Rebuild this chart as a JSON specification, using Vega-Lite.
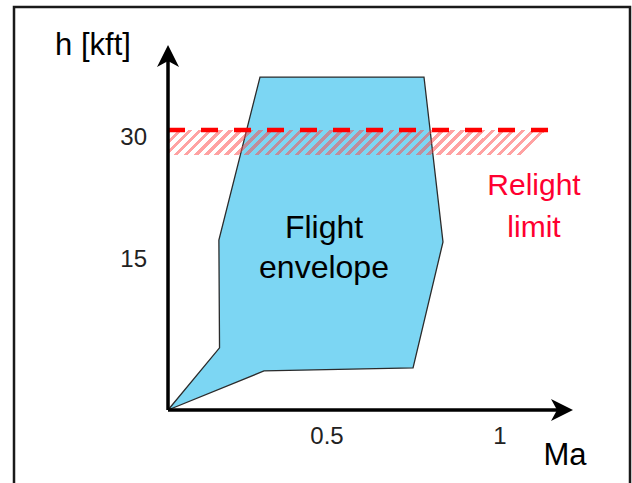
{
  "$schema": "https://vega.github.io/schema/vega-lite/v6.json",
  "width": 616,
  "height": 478,
  "autosize": {"type": "none"},
  "padding": {"left": 14, "top": 7, "right": 2, "bottom": -2},
  "background": "white",
  "config": {
    "view": {"stroke": "#1a1a1a", "strokeWidth": 2.5},
    "text": {"font": "Liberation Sans"}
  },
  "datasets": {
    "envelope": [
      {"i": 0, "Ma": 0, "h": 0},
      {"i": 1, "Ma": 0.16, "h": 6.8},
      {"i": 2, "Ma": 0.158, "h": 18.6},
      {"i": 3, "Ma": 0.2857, "h": 36.43},
      {"i": 4, "Ma": 0.795, "h": 36.43},
      {"i": 5, "Ma": 0.854, "h": 18.38},
      {"i": 6, "Ma": 0.761, "h": 4.6},
      {"i": 7, "Ma": 0.298, "h": 4.27},
      {"i": 8, "Ma": 0, "h": 0}
    ],
    "band": [{"Ma": 0, "Ma2": 1.186, "h": 27.9, "h2": 30.63}],
    "relight": [{"Ma": 0, "Ma2": 1.186, "h": 30.63}],
    "axes": [
      {"axis": "h", "Ma": 0, "h": 0, "Ma2": 0, "h2": 38.73},
      {"axis": "Ma", "Ma": 0, "h": 0, "Ma2": 1.2236, "h2": 0}
    ],
    "titles": [
      {"label": "h [kft]", "Ma": -0.2329, "h": 38.84},
      {"label": "Ma", "Ma": 1.233, "h": -6.02}
    ],
    "envLabel": [{"label": "Flight\nenvelope", "Ma": 0.4845, "h": 18.82}],
    "relightLabel": [{"label": "Relight\nlimit", "Ma": 1.1366, "h": 23.52}],
    "ytick30": [{"label": "30", "Ma": 0, "h": 30}],
    "ytick15": [{"label": "15", "Ma": 0, "h": 15}],
    "xtick05": [{"label": "0.5", "Ma": 0.5, "h": 0}],
    "xtick1": [{"label": "1", "Ma": 1, "h": 0}]
  },
  "encoding": {
    "x": {"field": "Ma", "type": "quantitative", "scale": {"domain": [-0.4783, 1.4348], "nice": false, "zero": false}, "axis": null},
    "y": {"field": "h", "type": "quantitative", "scale": {"domain": [-8.206, 44.092], "nice": false, "zero": false}, "axis": null}
  },
  "layer": [
    {
      "data": {"name": "envelope"},
      "mark": {"type": "line", "fill": "#7cd6f3", "stroke": "#2b2b2b", "strokeWidth": 1.3, "strokeJoin": "miter"},
      "encoding": {"order": {"field": "i", "type": "quantitative"}}
    },
    {
      "data": {"name": "band"},
      "mark": {
        "type": "rect",
        "fill": {
          "gradient": "linear", "x1": 0, "y1": 0, "x2": 1, "y2": 0.0654,
          "stops": [
            {"offset": 0, "color": "rgba(255,70,70,0.5)"}, {"offset": 0.0118, "color": "rgba(255,70,70,0.5)"}, {"offset": 0.0118, "color": "rgba(255,70,70,0)"}, {"offset": 0.0263, "color": "rgba(255,70,70,0)"},
            {"offset": 0.0263, "color": "rgba(255,70,70,0.5)"}, {"offset": 0.0381, "color": "rgba(255,70,70,0.5)"}, {"offset": 0.0381, "color": "rgba(255,70,70,0)"}, {"offset": 0.0526, "color": "rgba(255,70,70,0)"},
            {"offset": 0.0526, "color": "rgba(255,70,70,0.5)"}, {"offset": 0.0644, "color": "rgba(255,70,70,0.5)"}, {"offset": 0.0644, "color": "rgba(255,70,70,0)"}, {"offset": 0.0789, "color": "rgba(255,70,70,0)"},
            {"offset": 0.0789, "color": "rgba(255,70,70,0.5)"}, {"offset": 0.0907, "color": "rgba(255,70,70,0.5)"}, {"offset": 0.0907, "color": "rgba(255,70,70,0)"}, {"offset": 0.1053, "color": "rgba(255,70,70,0)"},
            {"offset": 0.1053, "color": "rgba(255,70,70,0.5)"}, {"offset": 0.1171, "color": "rgba(255,70,70,0.5)"}, {"offset": 0.1171, "color": "rgba(255,70,70,0)"}, {"offset": 0.1316, "color": "rgba(255,70,70,0)"},
            {"offset": 0.1316, "color": "rgba(255,70,70,0.5)"}, {"offset": 0.1434, "color": "rgba(255,70,70,0.5)"}, {"offset": 0.1434, "color": "rgba(255,70,70,0)"}, {"offset": 0.1579, "color": "rgba(255,70,70,0)"},
            {"offset": 0.1579, "color": "rgba(255,70,70,0.5)"}, {"offset": 0.1697, "color": "rgba(255,70,70,0.5)"}, {"offset": 0.1697, "color": "rgba(255,70,70,0)"}, {"offset": 0.1842, "color": "rgba(255,70,70,0)"},
            {"offset": 0.1842, "color": "rgba(255,70,70,0.5)"}, {"offset": 0.196, "color": "rgba(255,70,70,0.5)"}, {"offset": 0.196, "color": "rgba(255,70,70,0)"}, {"offset": 0.2105, "color": "rgba(255,70,70,0)"},
            {"offset": 0.2105, "color": "rgba(255,70,70,0.5)"}, {"offset": 0.2223, "color": "rgba(255,70,70,0.5)"}, {"offset": 0.2223, "color": "rgba(255,70,70,0)"}, {"offset": 0.2368, "color": "rgba(255,70,70,0)"},
            {"offset": 0.2368, "color": "rgba(255,70,70,0.5)"}, {"offset": 0.2486, "color": "rgba(255,70,70,0.5)"}, {"offset": 0.2486, "color": "rgba(255,70,70,0)"}, {"offset": 0.2632, "color": "rgba(255,70,70,0)"},
            {"offset": 0.2632, "color": "rgba(255,70,70,0.5)"}, {"offset": 0.275, "color": "rgba(255,70,70,0.5)"}, {"offset": 0.275, "color": "rgba(255,70,70,0)"}, {"offset": 0.2895, "color": "rgba(255,70,70,0)"},
            {"offset": 0.2895, "color": "rgba(255,70,70,0.5)"}, {"offset": 0.3013, "color": "rgba(255,70,70,0.5)"}, {"offset": 0.3013, "color": "rgba(255,70,70,0)"}, {"offset": 0.3158, "color": "rgba(255,70,70,0)"},
            {"offset": 0.3158, "color": "rgba(255,70,70,0.5)"}, {"offset": 0.3276, "color": "rgba(255,70,70,0.5)"}, {"offset": 0.3276, "color": "rgba(255,70,70,0)"}, {"offset": 0.3421, "color": "rgba(255,70,70,0)"},
            {"offset": 0.3421, "color": "rgba(255,70,70,0.5)"}, {"offset": 0.3539, "color": "rgba(255,70,70,0.5)"}, {"offset": 0.3539, "color": "rgba(255,70,70,0)"}, {"offset": 0.3684, "color": "rgba(255,70,70,0)"},
            {"offset": 0.3684, "color": "rgba(255,70,70,0.5)"}, {"offset": 0.3802, "color": "rgba(255,70,70,0.5)"}, {"offset": 0.3802, "color": "rgba(255,70,70,0)"}, {"offset": 0.3947, "color": "rgba(255,70,70,0)"},
            {"offset": 0.3947, "color": "rgba(255,70,70,0.5)"}, {"offset": 0.4065, "color": "rgba(255,70,70,0.5)"}, {"offset": 0.4065, "color": "rgba(255,70,70,0)"}, {"offset": 0.4211, "color": "rgba(255,70,70,0)"},
            {"offset": 0.4211, "color": "rgba(255,70,70,0.5)"}, {"offset": 0.4329, "color": "rgba(255,70,70,0.5)"}, {"offset": 0.4329, "color": "rgba(255,70,70,0)"}, {"offset": 0.4474, "color": "rgba(255,70,70,0)"},
            {"offset": 0.4474, "color": "rgba(255,70,70,0.5)"}, {"offset": 0.4592, "color": "rgba(255,70,70,0.5)"}, {"offset": 0.4592, "color": "rgba(255,70,70,0)"}, {"offset": 0.4737, "color": "rgba(255,70,70,0)"},
            {"offset": 0.4737, "color": "rgba(255,70,70,0.5)"}, {"offset": 0.4855, "color": "rgba(255,70,70,0.5)"}, {"offset": 0.4855, "color": "rgba(255,70,70,0)"}, {"offset": 0.5, "color": "rgba(255,70,70,0)"},
            {"offset": 0.5, "color": "rgba(255,70,70,0.5)"}, {"offset": 0.5118, "color": "rgba(255,70,70,0.5)"}, {"offset": 0.5118, "color": "rgba(255,70,70,0)"}, {"offset": 0.5263, "color": "rgba(255,70,70,0)"},
            {"offset": 0.5263, "color": "rgba(255,70,70,0.5)"}, {"offset": 0.5381, "color": "rgba(255,70,70,0.5)"}, {"offset": 0.5381, "color": "rgba(255,70,70,0)"}, {"offset": 0.5526, "color": "rgba(255,70,70,0)"},
            {"offset": 0.5526, "color": "rgba(255,70,70,0.5)"}, {"offset": 0.5644, "color": "rgba(255,70,70,0.5)"}, {"offset": 0.5644, "color": "rgba(255,70,70,0)"}, {"offset": 0.5789, "color": "rgba(255,70,70,0)"},
            {"offset": 0.5789, "color": "rgba(255,70,70,0.5)"}, {"offset": 0.5907, "color": "rgba(255,70,70,0.5)"}, {"offset": 0.5907, "color": "rgba(255,70,70,0)"}, {"offset": 0.6053, "color": "rgba(255,70,70,0)"},
            {"offset": 0.6053, "color": "rgba(255,70,70,0.5)"}, {"offset": 0.6171, "color": "rgba(255,70,70,0.5)"}, {"offset": 0.6171, "color": "rgba(255,70,70,0)"}, {"offset": 0.6316, "color": "rgba(255,70,70,0)"},
            {"offset": 0.6316, "color": "rgba(255,70,70,0.5)"}, {"offset": 0.6434, "color": "rgba(255,70,70,0.5)"}, {"offset": 0.6434, "color": "rgba(255,70,70,0)"}, {"offset": 0.6579, "color": "rgba(255,70,70,0)"},
            {"offset": 0.6579, "color": "rgba(255,70,70,0.5)"}, {"offset": 0.6697, "color": "rgba(255,70,70,0.5)"}, {"offset": 0.6697, "color": "rgba(255,70,70,0)"}, {"offset": 0.6842, "color": "rgba(255,70,70,0)"},
            {"offset": 0.6842, "color": "rgba(255,70,70,0.5)"}, {"offset": 0.696, "color": "rgba(255,70,70,0.5)"}, {"offset": 0.696, "color": "rgba(255,70,70,0)"}, {"offset": 0.7105, "color": "rgba(255,70,70,0)"},
            {"offset": 0.7105, "color": "rgba(255,70,70,0.5)"}, {"offset": 0.7223, "color": "rgba(255,70,70,0.5)"}, {"offset": 0.7223, "color": "rgba(255,70,70,0)"}, {"offset": 0.7368, "color": "rgba(255,70,70,0)"},
            {"offset": 0.7368, "color": "rgba(255,70,70,0.5)"}, {"offset": 0.7486, "color": "rgba(255,70,70,0.5)"}, {"offset": 0.7486, "color": "rgba(255,70,70,0)"}, {"offset": 0.7632, "color": "rgba(255,70,70,0)"},
            {"offset": 0.7632, "color": "rgba(255,70,70,0.5)"}, {"offset": 0.775, "color": "rgba(255,70,70,0.5)"}, {"offset": 0.775, "color": "rgba(255,70,70,0)"}, {"offset": 0.7895, "color": "rgba(255,70,70,0)"},
            {"offset": 0.7895, "color": "rgba(255,70,70,0.5)"}, {"offset": 0.8013, "color": "rgba(255,70,70,0.5)"}, {"offset": 0.8013, "color": "rgba(255,70,70,0)"}, {"offset": 0.8158, "color": "rgba(255,70,70,0)"},
            {"offset": 0.8158, "color": "rgba(255,70,70,0.5)"}, {"offset": 0.8276, "color": "rgba(255,70,70,0.5)"}, {"offset": 0.8276, "color": "rgba(255,70,70,0)"}, {"offset": 0.8421, "color": "rgba(255,70,70,0)"},
            {"offset": 0.8421, "color": "rgba(255,70,70,0.5)"}, {"offset": 0.8539, "color": "rgba(255,70,70,0.5)"}, {"offset": 0.8539, "color": "rgba(255,70,70,0)"}, {"offset": 0.8684, "color": "rgba(255,70,70,0)"},
            {"offset": 0.8684, "color": "rgba(255,70,70,0.5)"}, {"offset": 0.8802, "color": "rgba(255,70,70,0.5)"}, {"offset": 0.8802, "color": "rgba(255,70,70,0)"}, {"offset": 0.8947, "color": "rgba(255,70,70,0)"},
            {"offset": 0.8947, "color": "rgba(255,70,70,0.5)"}, {"offset": 0.9065, "color": "rgba(255,70,70,0.5)"}, {"offset": 0.9065, "color": "rgba(255,70,70,0)"}, {"offset": 0.9211, "color": "rgba(255,70,70,0)"},
            {"offset": 0.9211, "color": "rgba(255,70,70,0.5)"}, {"offset": 0.9329, "color": "rgba(255,70,70,0.5)"}, {"offset": 0.9329, "color": "rgba(255,70,70,0)"}, {"offset": 0.9474, "color": "rgba(255,70,70,0)"},
            {"offset": 0.9474, "color": "rgba(255,70,70,0.5)"}, {"offset": 0.9592, "color": "rgba(255,70,70,0.5)"}, {"offset": 0.9592, "color": "rgba(255,70,70,0)"}, {"offset": 0.9737, "color": "rgba(255,70,70,0)"},
            {"offset": 0.9737, "color": "rgba(255,70,70,0.5)"}, {"offset": 0.9855, "color": "rgba(255,70,70,0.5)"}, {"offset": 0.9855, "color": "rgba(255,70,70,0)"}, {"offset": 1, "color": "rgba(255,70,70,0)"}
          ]
        }
      },
      "encoding": {"x2": {"field": "Ma2"}, "y2": {"field": "h2"}}
    },
    {
      "data": {"name": "relight"},
      "mark": {"type": "rule", "color": "#ff0000", "strokeWidth": 4.5, "strokeDash": [17, 16]},
      "encoding": {"x2": {"field": "Ma2"}}
    },
    {
      "data": {"name": "axes"},
      "mark": {"type": "rule", "color": "black", "strokeWidth": 3.5},
      "encoding": {"x2": {"field": "Ma2"}, "y2": {"field": "h2"}}
    },
    {
      "data": {"name": "axes"},
      "transform": [{"filter": "datum.axis === 'h'"}],
      "mark": {"type": "point", "shape": "M0,-1L1,1L0,0.45L-1,1Z", "filled": true, "color": "black", "opacity": 1, "size": 484, "angle": 0},
      "encoding": {"x": {"field": "Ma2", "type": "quantitative"}, "y": {"field": "h2", "type": "quantitative"}}
    },
    {
      "data": {"name": "axes"},
      "transform": [{"filter": "datum.axis === 'Ma'"}],
      "mark": {"type": "point", "shape": "M0,-1L1,1L0,0.45L-1,1Z", "filled": true, "color": "black", "opacity": 1, "size": 484, "angle": 90},
      "encoding": {"x": {"field": "Ma2", "type": "quantitative"}, "y": {"field": "h2", "type": "quantitative"}}
    },
    {
      "data": {"name": "titles"},
      "mark": {"type": "text", "fontSize": 31, "color": "black", "align": "center", "baseline": "alphabetic"},
      "encoding": {"text": {"field": "label"}}
    },
    {
      "data": {"name": "envLabel"},
      "mark": {"type": "text", "fontSize": 32, "color": "black", "align": "center", "baseline": "alphabetic", "lineBreak": "\n", "lineHeight": 40},
      "encoding": {"text": {"field": "label"}}
    },
    {
      "data": {"name": "relightLabel"},
      "mark": {"type": "text", "fontSize": 30, "color": "#ff0030", "align": "center", "baseline": "alphabetic", "lineBreak": "\n", "lineHeight": 42},
      "encoding": {"text": {"field": "label"}}
    },
    {
      "data": {"name": "ytick30"},
      "mark": {"type": "text", "fontSize": 24, "color": "#222222", "align": "right", "baseline": "middle", "dx": -21, "dy": 2},
      "encoding": {"text": {"field": "label"}}
    },
    {
      "data": {"name": "ytick15"},
      "mark": {"type": "text", "fontSize": 24, "color": "#222222", "align": "right", "baseline": "middle", "dx": -21, "dy": -13},
      "encoding": {"text": {"field": "label"}}
    },
    {
      "data": {"name": "xtick05"},
      "mark": {"type": "text", "fontSize": 24, "color": "#222222", "align": "center", "baseline": "middle", "dx": -2, "dy": 27},
      "encoding": {"text": {"field": "label"}}
    },
    {
      "data": {"name": "xtick1"},
      "mark": {"type": "text", "fontSize": 24, "color": "#222222", "align": "center", "baseline": "middle", "dx": 10, "dy": 27},
      "encoding": {"text": {"field": "label"}}
    }
  ]
}
